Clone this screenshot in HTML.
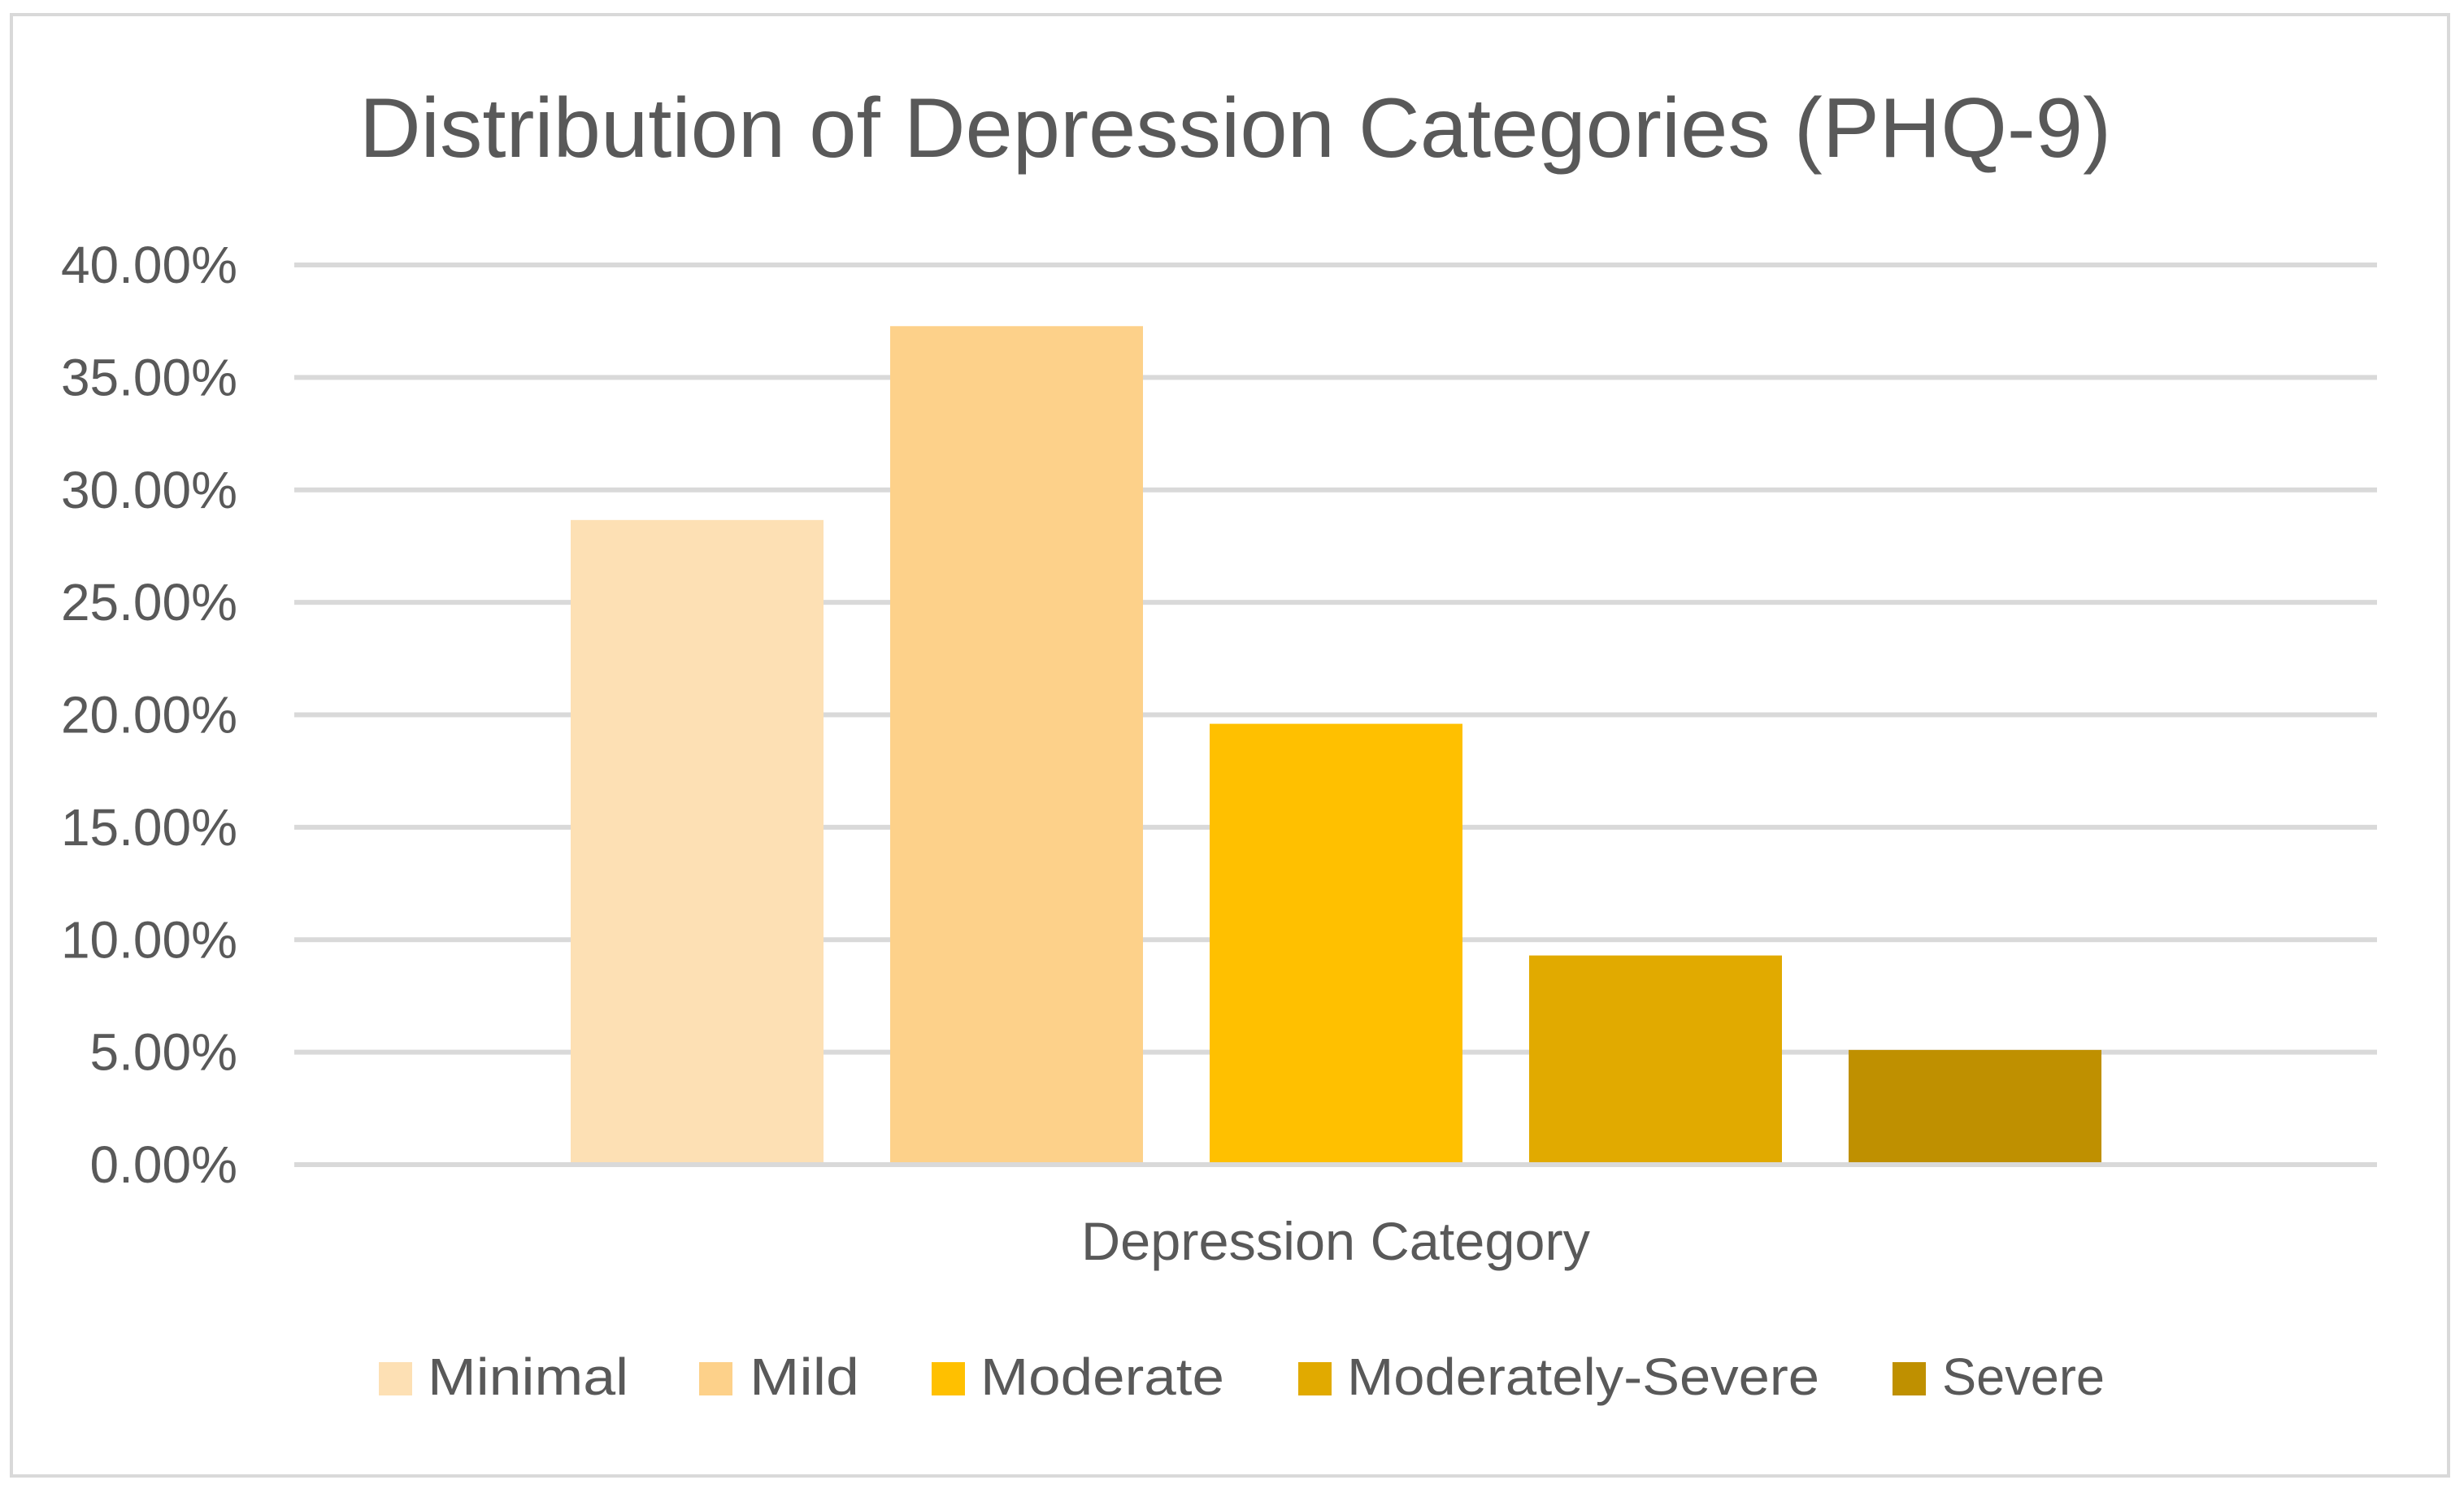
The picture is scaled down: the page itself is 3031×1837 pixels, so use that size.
<!DOCTYPE html>
<html><head><meta charset="utf-8"><style>
html,body{margin:0;padding:0;background:#fff;}
svg{display:block;font-family:"Liberation Sans",sans-serif;}
</style></head><body>
<svg id="chart" width="3031" height="1837" viewBox="0 0 3031 1837" xmlns="http://www.w3.org/2000/svg">
<rect x="14" y="18" width="2998" height="1798" fill="#fff" stroke="#d9d9d9" stroke-width="4"/>
<text x="442" y="193" font-size="104" fill="#595959" textLength="2155" lengthAdjust="spacingAndGlyphs">Distribution of Depression Categories (PHQ-9)</text>
<g id="grid"></g>
<g id="yticks"></g>
<g id="bars"></g>
<text x="1643" y="1550" font-size="66" fill="#595959" text-anchor="middle" textLength="626" lengthAdjust="spacingAndGlyphs">Depression Category</text>
<g id="legend"></g>
</svg>
<script>
const categories = ["Minimal","Mild","Moderate","Moderately-Severe","Severe"];
const values = [28.66, 37.28, 19.6, 9.3, 5.1];
const colors = ["#FDE0B4","#FDD18A","#FFC000","#E1AA00","#BF9000"];
const yTicks = [0,5,10,15,20,25,30,35,40];
const yTickLabels = ["0.00%","5.00%","10.00%","15.00%","20.00%","25.00%","30.00%","35.00%","40.00%"];

const NS="http://www.w3.org/2000/svg";
const plotL=362, plotR=2924, y0=1433, yTop=326, yMax=40;
function y(v){return y0-(v/yMax)*(y0-yTop);}
const pitch=393, barW=311, firstX=702;
function x(i){return firstX+i*pitch;}
function mk(tag,attrs,parent){const e=document.createElementNS(NS,tag);for(const k in attrs)e.setAttribute(k,attrs[k]);parent.appendChild(e);return e;}
const grid=document.getElementById('grid'),yt=document.getElementById('yticks'),bars=document.getElementById('bars'),leg=document.getElementById('legend');
yTicks.forEach((t,i)=>{
  const l=mk('rect',{x:plotL,y:y(t)-3,width:plotR-plotL,height:6,fill:'#d9d9d9'},grid);
  
  
  const tx=mk('text',{x:292,y:y(t)+22,'font-size':64,fill:'#595959','text-anchor':'end'},yt);
  
  
  tx.textContent=yTickLabels[i];
});
values.forEach((v,i)=>{
  const b=mk('rect',{x:x(i),y:y(v),width:barW,height:y0-3-y(v),fill:colors[i]},bars);
  
  
});
const legSq=[466,860,1146,1597,2328];
const legTx=[[526,247],[922,135],[1206,300],[1657,581],[2389,200]];
categories.forEach((c,i)=>{
  const s=mk('rect',{x:legSq[i],y:1676,width:41,height:41,fill:colors[i]},leg);
  
  
  const t=mk('text',{x:legTx[i][0],y:1716,'font-size':64,fill:'#595959',textLength:legTx[i][1],lengthAdjust:'spacingAndGlyphs'},leg);
  
  
  t.textContent=c;
});
</script>
</body></html>
